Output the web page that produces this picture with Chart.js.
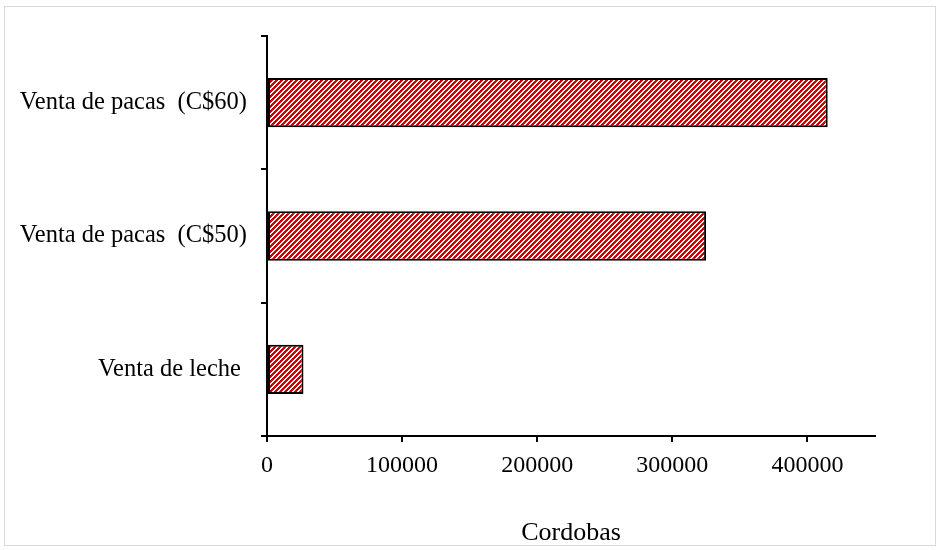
<!DOCTYPE html>
<html>
<head>
<meta charset="utf-8">
<script src="https://cdn.jsdelivr.net/npm/chart.js@4/dist/chart.umd.min.js"></script>
<style>
html,body{margin:0;padding:0;background:#fff;}
#wrap{position:relative;width:941px;height:550px;}
#frame{position:absolute;left:4px;top:6px;width:930px;height:538px;border:1px solid #d9d9d9;box-sizing:content-box;pointer-events:none;}
canvas{position:absolute;left:0;top:0;}
</style>
</head>
<body>
<div id="wrap">
<canvas id="c" width="941" height="550"></canvas>
<div id="frame"></div>
</div>
<script>
const categories = ['Venta de pacas  (C$60)', 'Venta de pacas  (C$50)', 'Venta de leche '];
const values = [415000, 325000, 27000];
const tickValues = [0, 100000, 200000, 300000, 400000];
const axisTitle = 'Cordobas';

function makePattern() {
  const n = 5;
  const p = document.createElement('canvas');
  p.width = n; p.height = n;
  const g = p.getContext('2d');
  g.fillStyle = '#ffffff';
  g.fillRect(0, 0, n, n);
  g.fillStyle = '#cc0000';
  for (let y = 0; y < n; y++) {
    for (let x = 0; x < n; x++) {
      const m = (x + y) % n;
      if (m === 0 || m === 1 || m === 2) g.fillRect(x, y, 1, 1);
    }
  }
  return document.getElementById('c').getContext('2d').createPattern(p, 'repeat');
}

const family = '"Liberation Serif", "Times New Roman", serif';

new Chart(document.getElementById('c'), {
  type: 'bar',
  data: {
    labels: categories,
    datasets: [{
      data: values,
      backgroundColor: makePattern(),
      borderColor: '#000',
      borderWidth: 2,
      borderSkipped: false,
      barPercentage: 0.37,
      categoryPercentage: 1
    }]
  },
  options: {
    indexAxis: 'y',
    responsive: false,
    animation: false,
    devicePixelRatio: 1,
    layout: {padding: {top: 36, right: 66, left: 0, bottom: 0}},
    plugins: {legend: {display: false}, tooltip: {enabled: false}},
    scales: {
      x: {
        min: 0, max: 450000,
        afterBuildTicks: s => { s.ticks = tickValues.map(v => ({value: v})); },
        afterFit: s => { s.height = 114; },
        grid: {drawOnChartArea: false, drawTicks: true, tickLength: 6, color: '#000', lineWidth: 2},
        border: {display: true, color: '#000', width: 2},
        ticks: {color: '#000', font: {family: family, size: 24}, padding: 9, maxRotation: 0, autoSkip: false,
                callback: v => String(v)},
        title: {display: true, text: axisTitle, color: '#000', font: {family: family, size: 26}, padding: {top: 4, bottom: 1}}
      },
      y: {
        afterFit: s => { s.width = 267; },
        grid: {drawOnChartArea: false, drawTicks: true, tickLength: 6, color: '#000', lineWidth: 2, offset: true},
        border: {display: true, color: '#000', width: 2},
        ticks: {color: '#000', font: {family: family, size: 24.5}, padding: 14}
      }
    }
  }
});
</script>
</body>
</html>
